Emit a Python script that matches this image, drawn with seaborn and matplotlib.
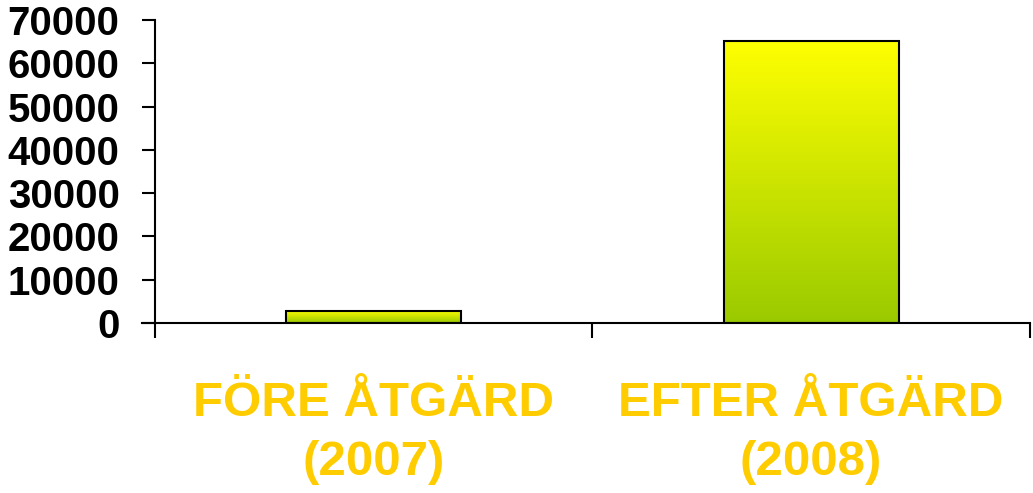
import numpy as np
import pandas as pd
import matplotlib
matplotlib.use("Agg")
import matplotlib.pyplot as plt
from matplotlib.colors import LinearSegmentedColormap
from matplotlib.ticker import FixedLocator
import seaborn as sns

# data
categories = ["FÖRE ÅTGÄRD\n(2007)", "EFTER ÅTGÄRD\n(2008)"]
values = [2800, 65300]
yticks = [0, 10000, 20000, 30000, 40000, 50000, 60000, 70000]

df = pd.DataFrame({"category": categories, "value": values})

sns.set_style("white")
plt.rcParams["font.family"] = ["Liberation Sans", "DejaVu Sans"]

fig = plt.figure(figsize=(10.33, 4.93), dpi=100)
ax = fig.add_axes([0.150, 0.345, 0.847, 0.614])

sns.barplot(data=df, x="category", y="value", width=0.4,
            color="#CCEE00", edgecolor="black", linewidth=1.5, ax=ax)

# vertical gradient fill inside each bar: yellow top, green bottom
cmap = LinearSegmentedColormap.from_list("yg", ["#9ACA00", "#FFFF00"])
grad = np.linspace(0, 1, 256).reshape(-1, 1)
for bar in ax.patches:
    x0, y0 = bar.get_x(), bar.get_y()
    w, h = bar.get_width(), bar.get_height()
    img = ax.imshow(grad, cmap=cmap, origin="lower", aspect="auto",
                    extent=[x0, x0 + w, y0, y0 + h], zorder=bar.get_zorder())
    img.set_clip_path(bar)
    bar.set_facecolor("none")
    bar.set_zorder(bar.get_zorder() + 0.1)

ax.set_xlim(-0.5, 1.5)
ax.set_ylim(0, 70000)
ax.set_yticks(yticks)
ax.set_yticklabels([str(t) for t in yticks], fontsize=29, fontweight="bold",
                   color="black")
ax.set_xticks(range(len(categories)))
ax.set_xticklabels(categories, fontsize=35.5, fontweight="bold",
                   color="#FFCC00", linespacing=1.39)
ax.tick_params(axis="x", which="major", length=0, pad=42)
ax.xaxis.set_minor_locator(FixedLocator([-0.5, 0.5, 1.5]))
ax.tick_params(axis="x", which="minor", length=11, width=1.5,
               direction="out", color="black", bottom=True)
ax.tick_params(axis="y", length=9.5, width=1.5, direction="out",
               color="black", left=True, pad=16)

for s in ["top", "right"]:
    ax.spines[s].set_visible(False)
for s in ["left", "bottom"]:
    ax.spines[s].set_color("black")
    ax.spines[s].set_linewidth(1.5)
ax.spines["bottom"].set_bounds(-0.53, 1.5)
ax.set_xlabel("")
ax.set_ylabel("")

fig.savefig("out.png", dpi=100)
